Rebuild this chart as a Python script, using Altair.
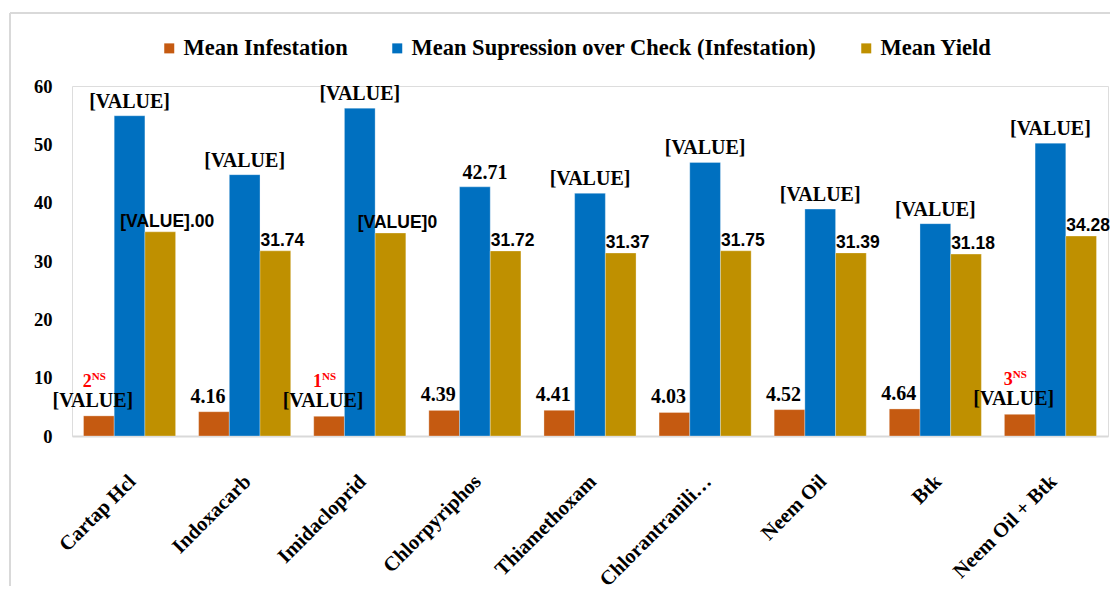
import altair as alt
import pandas as pd

categories = ["Cartap Hcl", "Indoxacarb", "Imidacloprid", "Chlorpyriphos", "Thiamethoxam",
              "Chlorantraniliprole", "Neem Oil", "Btk", "Neem Oil + Btk"]
series = ["Mean Infestation", "Mean Supression over Check (Infestation)", "Mean Yield"]
infestation = [3.45, 4.16, 3.38, 4.39, 4.41, 4.03, 4.52, 4.64, 3.72]
suppression = [54.9, 44.8, 56.2, 42.71, 41.6, 46.9, 38.9, 36.4, 50.2]
yield_values = [35.00, 31.74, 34.80, 31.72, 31.37, 31.75, 31.39, 31.18, 34.28]
infestation_labels = ["[VALUE]", "4.16", "[VALUE]", "4.39", "4.41", "4.03", "4.52", "4.64", "[VALUE]"]
suppression_labels = ["[VALUE]", "[VALUE]", "[VALUE]", "42.71", "[VALUE]", "[VALUE]", "[VALUE]", "[VALUE]", "[VALUE]"]
yield_labels = ["[VALUE].00", "31.74", "[VALUE]0", "31.72", "31.37", "31.75", "31.39", "31.18", "34.28"]
ns_categories = ["Cartap Hcl", "Imidacloprid", "Neem Oil + Btk"]
ns_ranks = ["2", "1", "3"]
colors = ["#C55A11", "#0070C0", "#BF9000"]
y_ticks = [0, 10, 20, 30, 40, 50, 60]

rows = []
for vals, labs, s in [(infestation, infestation_labels, series[0]),
                      (suppression, suppression_labels, series[1]),
                      (yield_values, yield_labels, series[2])]:
    for c, v, l in zip(categories, vals, labs):
        rows.append({"category": c, "series": s, "value": v, "label": l})
df = pd.DataFrame(rows)

inf_map = dict(zip(categories, infestation))
ann = pd.DataFrame({
    "category": ns_categories,
    "series": [series[0]] * len(ns_categories),
    "value": [inf_map[c] for c in ns_categories],
    "rank": ns_ranks,
    "ns": ["NS"] * len(ns_categories),
})

SERIF = "Liberation Serif"
SANS = "Liberation Sans"
W, H = 1036, 350

x_enc = alt.X("category:N", sort=categories,
              scale=alt.Scale(paddingInner=0.2, paddingOuter=0.1),
              axis=alt.Axis(title=None, labelAngle=-45, labelFont=SERIF, labelFontWeight="bold",
                            labelFontSize=20.5, labelColor="black", ticks=False, tickSize=0,
                            domainColor="#d9d9d9", domainWidth=2, labelPadding=35,
                            labelOffset=-4, labelLimit=300,
                            labelExpr="datum.label == 'Chlorantraniliprole' ? 'Chlorantranili\u2026' : datum.label"))
xo_enc = alt.XOffset("series:N", sort=series,
                     scale=alt.Scale(domain=series, paddingInner=0, paddingOuter=0))
y_enc = alt.Y("value:Q", scale=alt.Scale(domain=[0, 60], nice=False),
              axis=alt.Axis(title=None, values=y_ticks, labelFont=SERIF, labelFontWeight="bold",
                            labelFontSize=18.5, labelColor="black", ticks=False, tickSize=0,
                            domain=False, grid=False, labelPadding=20))

base = alt.Chart(df).encode(x=x_enc, xOffset=xo_enc, y=y_enc)

bars = base.mark_bar(stroke="#ffffff", strokeWidth=0.6, strokeOpacity=0.5).encode(
    color=alt.Color("series:N", scale=alt.Scale(domain=series, range=colors),
                    legend=alt.Legend(title=None, orient="none", legendX=86, legendY=-49,
                                      direction="horizontal", labelFont=SERIF, labelFontSize=22.5,
                                      labelFontWeight="bold", labelColor="black",
                                      symbolType="square", symbolSize=100, symbolStrokeWidth=0,
                                      symbolOpacity=1, labelOffset=3, columnPadding=38,
                                      labelLimit=600))
)

inf_text = base.transform_filter(alt.datum.series == series[0]).mark_text(
    font=SERIF, fontWeight="bold", fontSize=20, baseline="alphabetic", dy=-9, dx=-6, color="black"
).encode(text="label:N")

sup_text_ph = base.transform_filter(
    (alt.datum.series == series[1]) & (alt.datum.label == "[VALUE]")
).mark_text(font=SERIF, fontWeight="bold", fontSize=20, baseline="alphabetic", dy=-8, dx=0,
            color="black").encode(text="label:N")

sup_text_num = base.transform_filter(
    (alt.datum.series == series[1]) & (alt.datum.label != "[VALUE]")
).mark_text(font=SERIF, fontWeight="bold", fontSize=20, baseline="alphabetic", dy=-8, dx=10,
            color="black").encode(text="label:N")

yld_text = base.transform_filter(alt.datum.series == series[2]).mark_text(
    font=SANS, fontWeight="bold", fontSize=17.5, baseline="alphabetic", dy=-5, dx=7, color="black"
).encode(text="label:N")

ann_base = alt.Chart(ann).encode(x=alt.X("category:N", sort=categories),
                                 xOffset=alt.XOffset("series:N", sort=series),
                                 y=alt.Y("value:Q"))
ann_rank = ann_base.mark_text(font=SERIF, fontWeight="bold", fontSize=18, color="#FF0000",
                              align="right", baseline="alphabetic", dx=-7, dy=-29
                              ).encode(text="rank:N")
ann_ns = ann_base.mark_text(font=SERIF, fontWeight="bold", fontSize=11, color="#FF0000",
                            align="left", baseline="alphabetic", dx=-7, dy=-36
                            ).encode(text="ns:N")

frame_data = alt.Data(values=[{"a": 1}])
frame_left = alt.Chart(frame_data).mark_rule(color="#d9d9d9", strokeWidth=2).encode(
    x=alt.value(-62), y=alt.value(-73), y2=alt.value(H + 200))
frame_top = alt.Chart(frame_data).mark_rule(color="#d9d9d9", strokeWidth=2).encode(
    x=alt.value(-62), x2=alt.value(W + 100), y=alt.value(-73))

chart = alt.layer(frame_left, frame_top, bars, inf_text, sup_text_ph, sup_text_num, yld_text,
                  ann_rank, ann_ns).properties(
    width=W, height=H,
    autosize=alt.AutoSizeParams(type="none"),
    padding={"left": 64, "top": 78, "right": 2, "bottom": 150},
).configure_view(stroke=None).configure(background="white")

chart.save("out.html", embed_options={"renderer": "svg", "actions": False})
